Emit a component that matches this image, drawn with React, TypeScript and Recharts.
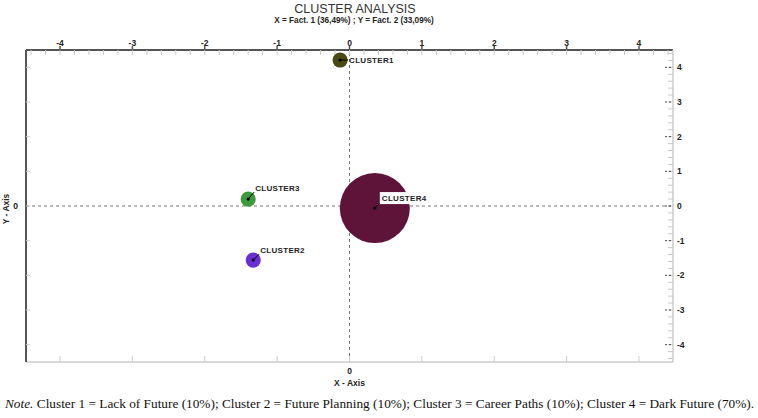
import { ScatterChart, Scatter, XAxis, YAxis, ZAxis, ReferenceLine } from "recharts";

// cluster centroids on the two factors, share of cases in each
const clusterNames = ["CLUSTER1", "CLUSTER2", "CLUSTER3", "CLUSTER4"];
const fact1 = [-0.13, -1.33, -1.4, 0.35];
const fact2 = [4.21, -1.56, 0.2, -0.06];
const shares = [10, 10, 10, 70];

const majorTicks = [-4, -3, -2, -1, 0, 1, 2, 3, 4];
const minorTicks = [
  -4.4, -4.2, -4, -3.8, -3.6, -3.4, -3.2, -3, -2.8, -2.6, -2.4, -2.2, -2, -1.8, -1.6, -1.4, -1.2, -1,
  -0.8, -0.6, -0.4, -0.2, 0, 0.2, 0.4, 0.6, 0.8, 1, 1.2, 1.4, 1.6, 1.8, 2, 2.2, 2.4, 2.6, 2.8, 3, 3.2,
  3.4, 3.6, 3.8, 4, 4.2, 4.4,
];

const X_DOMAIN: [number, number] = [-4.47, 4.47];
const Y_DOMAIN: [number, number] = [-4.5, 4.5];

const clusterStyle: Record<string, { fill: string; dx: number; dy: number; box?: boolean }> = {
  CLUSTER1: { fill: "#4a4916", dx: 9, dy: 0 },
  CLUSTER2: { fill: "#6a2fd4", dx: 7, dy: -10 },
  CLUSTER3: { fill: "#3c9a3c", dx: 7, dy: -11 },
  CLUSTER4: { fill: "#5e1439", dx: 7, dy: -10, box: true },
};

const data = clusterNames.map((name, i) => ({
  name,
  x: fact1[i],
  y: fact2[i],
  share: shares[i],
}));

const FONT = "'Liberation Sans', Arial, sans-serif";
const tickFont = { fontSize: 8.5, fontWeight: "bold", fill: "#222", fontFamily: FONT };

// eslint-disable-next-line @typescript-eslint/no-explicit-any
const ClusterShape = (props: any) => {
  const { cx, cy, size, payload } = props;
  const st = clusterStyle[payload.name];
  const r = Math.sqrt(Math.max(size, 0) / Math.PI);
  const lx = cx + st.dx;
  const ly = cy + st.dy;
  return (
    <g>
      <circle cx={cx} cy={cy} r={r} fill={st.fill} />
      <line x1={cx} y1={cy} x2={lx - 1} y2={ly + (st.dy ? 4 : 0)} stroke="#000" strokeWidth={1} />
      <circle cx={cx} cy={cy} r={1.6} fill="#000" />
      {st.box && <rect x={lx - 2} y={ly - 6} width={51} height={12} fill="#fff" />}
      <text
        x={lx}
        y={ly}
        dominantBaseline="central"
        fontSize={8}
        fontWeight="bold"
        fontFamily={FONT}
        fill="#222"
        letterSpacing={0.3}
      >
        {payload.name}
      </text>
    </g>
  );
};

// the extra x axes (top scale, minor ticks) only get ticks when a series is bound to them
const NoShape = () => <g />;

// eslint-disable-next-line @typescript-eslint/no-explicit-any
const RightTick = (props: any) => {
  const { x, y, payload } = props;
  return (
    <g>
      <line x1={x - 8} y1={y} x2={x} y2={y} stroke="#444" strokeDasharray="2 2" />
      <text x={x + 4} y={y} dominantBaseline="central" {...tickFont}>
        {payload.value}
      </text>
    </g>
  );
};

// eslint-disable-next-line @typescript-eslint/no-explicit-any
const BottomTick = (props: any) => {
  const { x, y, payload } = props;
  if (payload.value !== 0) return <g />;
  return (
    <g>
      <text x={x} y={y + 9} textAnchor="middle" dominantBaseline="central" {...tickFont}>
        {payload.value}
      </text>
      <text x={x} y={y + 21} textAnchor="middle" dominantBaseline="central" {...tickFont}>
        X - Axis
      </text>
    </g>
  );
};

export default function App() {
  return (
    <div style={{ position: "absolute", left: 0, top: 0, width: 758, height: 418, background: "#fff" }}>
      <svg width={758} height={30} style={{ position: "absolute", left: 0, top: 0 }}>
        <text x={355} y={9} textAnchor="middle" dominantBaseline="central" fontSize={12.5} fontFamily={FONT} fill="#333">
          CLUSTER ANALYSIS
        </text>
        <text x={354} y={20} textAnchor="middle" dominantBaseline="central" fontSize={8.2} fontWeight="bold" fontFamily={FONT} fill="#222">
          X = Fact. 1 (36,49%) ; Y = Fact. 2 (33,09%)
        </text>
      </svg>
      <div style={{ position: "absolute", left: 0, top: 0 }}>
        <ScatterChart width={758} height={395} margin={{ top: 30, right: 65, bottom: 3, left: 0 }}>
          <XAxis
            xAxisId={0}
            type="number"
            dataKey="x"
            orientation="bottom"
            domain={X_DOMAIN}
            allowDataOverflow
            ticks={majorTicks}
            height={30}
            tickSize={0}
            tickMargin={0}
            axisLine={{ stroke: "#cccccc", strokeWidth: 1.5 }}
            tickLine={false}
            tick={<BottomTick />}
          />
          <XAxis
            xAxisId={1}
            type="number"
            dataKey="x"
            orientation="top"
            domain={X_DOMAIN}
            allowDataOverflow
            ticks={majorTicks}
            height={20}
            tickSize={4}
            tickMargin={0}
            axisLine={{ stroke: "#555", strokeWidth: 2 }}
            tickLine={{ stroke: "#555", strokeWidth: 1.5 }}
            tick={tickFont}
          />
          <XAxis
            xAxisId={2}
            type="number"
            dataKey="x"
            orientation="top"
            mirror
            domain={X_DOMAIN}
            allowDataOverflow
            ticks={minorTicks}
            tickSize={5}
            axisLine={false}
            tickLine={{ stroke: "#c8c8c8" }}
            tickFormatter={() => ""}
          />
          <XAxis
            xAxisId={3}
            type="number"
            dataKey="x"
            orientation="bottom"
            mirror
            domain={X_DOMAIN}
            allowDataOverflow
            ticks={majorTicks}
            tickSize={6}
            axisLine={false}
            tickLine={{ stroke: "#cccccc" }}
            tickFormatter={() => ""}
          />
          <YAxis
            yAxisId={0}
            type="number"
            dataKey="y"
            orientation="left"
            domain={Y_DOMAIN}
            allowDataOverflow
            ticks={[0]}
            width={26}
            tickSize={0}
            tickMargin={8}
            axisLine={{ stroke: "#555", strokeWidth: 2 }}
            tickLine={false}
            tick={tickFont}
            // eslint-disable-next-line @typescript-eslint/no-explicit-any
            label={{
              content: (p: any) => {
                const lx = p.viewBox.x + 6;
                const ly = p.viewBox.y + p.viewBox.height / 2 + 3;
                return (
                  <text
                    x={lx}
                    y={ly}
                    transform={`rotate(-90 ${lx} ${ly})`}
                    textAnchor="middle"
                    dominantBaseline="central"
                    {...tickFont}
                  >
                    Y - Axis
                  </text>
                );
              },
            }}
          />
          <YAxis
            yAxisId={1}
            type="number"
            orientation="left"
            mirror
            domain={Y_DOMAIN}
            allowDataOverflow
            ticks={majorTicks}
            tickSize={4}
            axisLine={false}
            tickLine={{ stroke: "#cfcfcf" }}
            tickFormatter={() => ""}
          />
          <YAxis
            yAxisId={2}
            type="number"
            orientation="right"
            domain={Y_DOMAIN}
            allowDataOverflow
            ticks={majorTicks}
            width={20}
            tickSize={0}
            tickMargin={0}
            axisLine={{ stroke: "#cccccc", strokeWidth: 1.5 }}
            tickLine={false}
            tick={<RightTick />}
          />
          <YAxis
            yAxisId={3}
            type="number"
            orientation="right"
            mirror
            domain={Y_DOMAIN}
            allowDataOverflow
            ticks={minorTicks}
            tickSize={5}
            axisLine={false}
            tickLine={{ stroke: "#c8c8c8" }}
            tickFormatter={() => ""}
          />
          <ZAxis type="number" dataKey="share" domain={[10, 70]} range={[180, 3850]} />
          <ReferenceLine x={0} stroke="#777" strokeDasharray="3 3" />
          <ReferenceLine y={0} stroke="#777" strokeDasharray="3 3" />
          <Scatter xAxisId={1} data={data} shape={<NoShape />} isAnimationActive={false} />
          <Scatter xAxisId={2} data={data} shape={<NoShape />} isAnimationActive={false} />
          <Scatter xAxisId={3} data={data} shape={<NoShape />} isAnimationActive={false} />
          <Scatter data={data} shape={<ClusterShape />} isAnimationActive={false} />
        </ScatterChart>
      </div>
      <div
        style={{
          position: "absolute",
          left: 5,
          top: 396,
          fontFamily: "'Liberation Serif', 'Times New Roman', serif",
          fontSize: 13.3,
          whiteSpace: "nowrap",
          color: "#111",
        }}
      >
        <i>Note.</i> Cluster 1 = Lack of Future (10%); Cluster 2 = Future Planning (10%); Cluster 3 = Career Paths (10%); Cluster 4 = Dark Future (70%).
      </div>
    </div>
  );
}
